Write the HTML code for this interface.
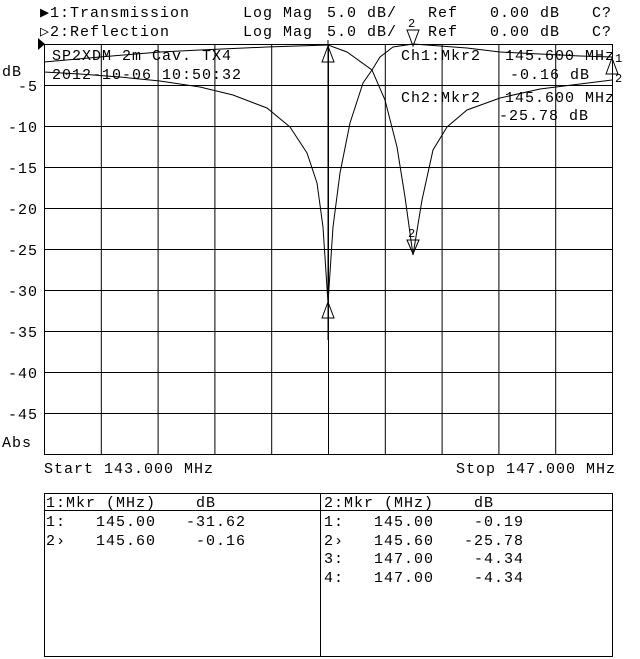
<!DOCTYPE html>
<html><head><meta charset="utf-8"><style>
html,body{margin:0;padding:0;background:#fff;}
svg{display:block}
text{font-family:"Liberation Mono","DejaVu Sans Mono",monospace;font-size:15px;fill:#000;letter-spacing:1px}
</style></head><body>
<svg width="640" height="659" viewBox="0 0 640 659" xmlns="http://www.w3.org/2000/svg">
<rect width="640" height="659" fill="#fff"/>
<g stroke="#000" stroke-width="1" fill="none">
<rect x="44.5" y="44.5" width="568" height="410"/>
<path d="M101.3 44V454M158.1 44V454M214.9 44V454M271.7 44V454M328.5 44V454M385.3 44V454M442.1 44V454M498.9 44V454M555.7 44V454"/>
<path d="M44 85.5H612M44 126.5H612M44 167.5H612M44 208.5H612M44 249.5H612M44 290.5H612M44 331.5H612M44 372.5H612M44 413.5H612"/>
<polyline points="44,72 80,74 120,77 160,81 200,87 233,95 267,108 290,127 307,153 317,183 323,227 328,303 333,227 340,173 350,123 363,83 372,70 380,57 393,47 413,44 467,48 500,52 540,54 580,56 612,57"/>
<polyline points="44,62 100,57 160,52 200,50 267,47 328,45 347,52 372,70 385,100 397,147 405,197 413,255 422,200 433,150 447,127 467,110 500,98 540,89 580,84 612,80"/>
<path d="M328 40V340"/>
<path d="M322 62L328 46L334 62Z"/>
<path d="M322 318L328 302L334 318Z"/>
<path d="M407 240L413 254L419 240Z" />
<path d="M407 30L413 46L419 30Z"/>
<path d="M606 74L612 58L618 74Z"/>
<rect x="44.5" y="493.5" width="568" height="163"/>
<path d="M320.5 493V657M44 510.5H612"/>
</g>
<path d="M38 38L45 44L38 50Z" fill="#000"/>
<text x="40" y="17">▶1:Transmission</text>
<text x="40" y="36">▷2:Reflection</text>
<text x="243" y="17">Log Mag</text><text x="243" y="36">Log Mag</text>
<text x="327" y="17">5.0 dB/</text><text x="327" y="36">5.0 dB/</text>
<text x="428" y="17">Ref</text><text x="428" y="36">Ref</text>
<text x="490" y="17">0.00 dB</text><text x="490" y="36">0.00 dB</text>
<text x="592" y="17">C?</text><text x="592" y="36">C?</text>
<text x="408" y="27" style="font-size:12px">2</text>
<text x="408" y="237" style="font-size:12px">2</text>
<text x="615" y="62" style="font-size:12px">1</text>
<text x="615" y="82" style="font-size:12px">2</text>
<text x="2" y="76">dB</text>
<g text-anchor="end">
<text x="38" y="91">-5</text><text x="38" y="132">-10</text><text x="38" y="173">-15</text><text x="38" y="214">-20</text><text x="38" y="255">-25</text><text x="38" y="296">-30</text><text x="38" y="337">-35</text><text x="38" y="378">-40</text><text x="38" y="419">-45</text>
</g>
<text x="2" y="447">Abs</text>
<text x="52" y="60">SP2XDM 2m Cav. TX4</text>
<text x="52" y="79">2012-10-06 10:50:32</text>
<text x="401" y="60">Ch1:Mkr2</text><text x="505" y="60">145.600 MHz</text>
<text x="510" y="79">-0.16 dB</text>
<text x="401" y="102">Ch2:Mkr2</text><text x="505" y="102">145.600 MHz</text>
<text x="499" y="120">-25.78 dB</text>
<text x="44" y="473">Start 143.000 MHz</text>
<text x="456" y="473">Stop 147.000 MHz</text>
<text x="46" y="507" xml:space="preserve">1:Mkr (MHz)    dB</text>
<text x="46" y="526" xml:space="preserve">1:   145.00   -31.62</text>
<text x="46" y="545" xml:space="preserve">2›   145.60    -0.16</text>
<text x="324" y="507" xml:space="preserve">2:Mkr (MHz)    dB</text>
<text x="324" y="526" xml:space="preserve">1:   145.00    -0.19</text>
<text x="324" y="545" xml:space="preserve">2›   145.60   -25.78</text>
<text x="324" y="563" xml:space="preserve">3:   147.00    -4.34</text>
<text x="324" y="582" xml:space="preserve">4:   147.00    -4.34</text>
</svg>
</body></html>
